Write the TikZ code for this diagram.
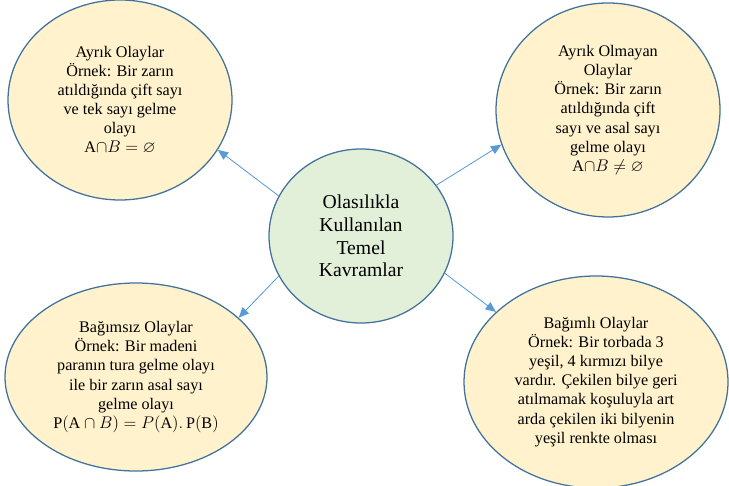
\documentclass[tikz,border=0pt]{standalone}
\usepackage{fontspec}
\setmainfont{Liberation Serif}
\usepackage{amssymb}
\usetikzlibrary{shapes.geometric,arrows.meta}
\definecolor{konuyesil}{HTML}{E2F0D9}
\definecolor{ornekkrem}{HTML}{FFF2CC}
\definecolor{kenarmavi}{HTML}{41719C}
\definecolor{okmavi}{HTML}{5B9BD5}

\begin{document}
\begin{tikzpicture}
\tikzset{kavram/.style={ellipse, draw=kenarmavi, line width=0.9pt, inner sep=0pt, align=center}}
\tikzset{ornek/.style={kavram, fill=ornekkrem, font=\fontsize{11.5}{13.6}\selectfont}}
\tikzset{merkez/.style={kavram, fill=konuyesil, font=\fontsize{14}{16.2}\selectfont}}
\tikzset{ok/.style={draw=okmavi, line width=0.6pt, -{Triangle[length=2.6mm,width=2.2mm]}}}
\useasboundingbox (0,0) rectangle (18.225,12.125);

\node[merkez, minimum width=4.6cm, minimum height=4.35cm] (K) at (9.025,6.225)
  {Olasılıkla\\Kullanılan\\Temel\\Kavramlar};
\node[ornek, minimum width=5.6cm, minimum height=5.0cm] (AO) at (3.0,9.625)
  {Ayrık Olaylar\\Örnek: Bir zarın\\atıldığında çift sayı\\ve tek sayı gelme\\olayı\\A$\cap B=\varnothing$};
\node[ornek, minimum width=5.6cm, minimum height=5.35cm] (AMO) at (15.2,9.375)
  {Ayrık Olmayan\\Olaylar\\Örnek: Bir zarın\\atıldığında çift\\sayı ve asal sayı\\gelme olayı\\A$\cap B\neq\varnothing$};
\node[ornek, minimum width=6.55cm, minimum height=4.7cm] (BO) at (3.4,2.7)
  {Bağımsız Olaylar\\Örnek: Bir madeni\\paranın tura gelme olayı\\ile bir zarın asal sayı\\gelme olayı\\$\mathrm{P}(\mathrm{A}\cap B)=P(\mathrm{A}).\,\mathrm{P}(\mathrm{B})$};
\node[ornek, minimum width=6.6cm, minimum height=5.3cm] (BLO) at (14.9,2.575)
  {Bağımlı Olaylar\\Örnek: Bir torbada 3\\yeşil, 4 kırmızı bilye\\vardır. Çekilen bilye geri\\atılmamak koşuluyla art\\arda çekilen iki bilyenin\\yeşil renkte olması};

\draw[ok] (K.154) -- (AO.-27);
\draw[ok] (K.34) -- (AMO.198);
\draw[ok] (K.206) -- (BO.30);
\draw[ok] (K.-24) -- (BLO.145);
\end{tikzpicture}
\end{document}
